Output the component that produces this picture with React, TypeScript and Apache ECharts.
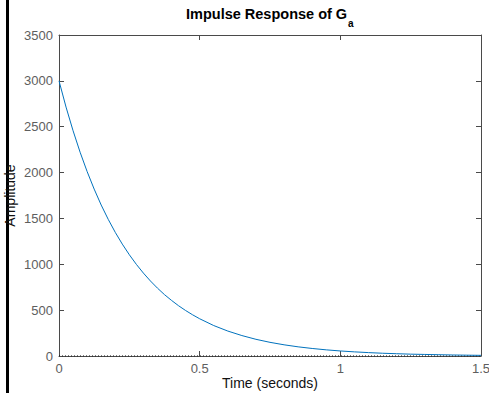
import React, { useEffect, useRef } from "react";
import * as echarts from "echarts";

// Time samples (seconds) and impulse response amplitude
const timeSeconds = [
  0, 0.025, 0.05, 0.075, 0.1, 0.125, 0.15, 0.175, 0.2, 0.225, 0.25,
  0.275, 0.3, 0.325, 0.35, 0.375, 0.4, 0.425, 0.45, 0.475, 0.5,
  0.55, 0.6, 0.65, 0.7, 0.75, 0.8, 0.85, 0.9, 0.95, 1.0,
  1.05, 1.1, 1.15, 1.2, 1.25, 1.3, 1.35, 1.4, 1.45, 1.5,
];
const amplitude = [
  3000, 2714, 2456, 2222, 2011, 1820, 1646, 1490, 1348, 1220, 1104,
  999, 904, 818, 740, 669, 606, 548, 496, 449, 406,
  332, 272, 223, 182, 149, 122, 100, 82, 67, 55,
  45, 37, 30, 25, 20, 17, 14, 11, 9, 7,
];
const xTicks = { min: 0, max: 1.5, interval: 0.5 };
const yTicks = { min: 0, max: 3500, interval: 500 };
const titleMain = "Impulse Response of G";
const titleSub = "a";
const xLabel = "Time (seconds)";
const yLabel = "Amplitude";

export default function App() {
  const ref = useRef<HTMLDivElement>(null);
  useEffect(() => {
    if (!ref.current) return;
    const chart = echarts.init(ref.current, null, { renderer: "svg" });
    const font = "'Liberation Sans', Arial, Helvetica, sans-serif";
    const tickColor = "#5e5e5e";
    const boxColor = "#4a4a4a";
    const lineData = timeSeconds.map((t, i) => [t, amplitude[i]]);
    const axisLine = { show: true, onZero: false, lineStyle: { color: boxColor, width: 1 } };
    const axisTick = { show: true, inside: true, length: 5, lineStyle: { color: boxColor } };
    const fmt = (v: number) => String(v);
    chart.setOption({
      animation: false,
      backgroundColor: "#ffffff",
      textStyle: { fontFamily: font },
      grid: { left: 59, top: 35, right: 8, bottom: 37, containLabel: false, outerBoundsMode: "none" },
      xAxis: [
        {
          type: "value",
          min: xTicks.min,
          max: xTicks.max,
          interval: xTicks.interval,
          position: "bottom",
          axisLine,
          axisTick,
          axisLabel: { color: tickColor, fontSize: 13, fontFamily: font, margin: 6, formatter: fmt },
          splitLine: { show: false },
          name: xLabel,
          nameLocation: "middle",
          nameGap: 20,
          nameMoveOverlap: false,
          nameTextStyle: { color: "#111", fontSize: 14, fontFamily: font },
        },
        {
          type: "value",
          min: xTicks.min,
          max: xTicks.max,
          interval: xTicks.interval,
          position: "top",
          axisLine,
          axisTick,
          axisLabel: { show: false },
          splitLine: { show: false },
        },
      ],
      yAxis: [
        {
          type: "value",
          min: yTicks.min,
          max: yTicks.max,
          interval: yTicks.interval,
          position: "left",
          axisLine,
          axisTick,
          axisLabel: { color: tickColor, fontSize: 13, fontFamily: font, margin: 6, formatter: fmt },
          splitLine: { show: false },
          name: yLabel,
          nameLocation: "middle",
          nameRotate: 90,
          nameGap: 42,
          nameMoveOverlap: false,
          nameTextStyle: { color: "#111", fontSize: 14, fontFamily: font },
        },
        {
          type: "value",
          min: yTicks.min,
          max: yTicks.max,
          interval: yTicks.interval,
          position: "right",
          axisLine,
          axisTick,
          axisLabel: { show: false },
          splitLine: { show: false },
        },
      ],
      series: [
        {
          type: "line",
          data: [[xTicks.min, 0], [xTicks.max, 0]],
          symbol: "none",
          lineStyle: { color: "#000", width: 1, type: [1, 2] },
          z: 1,
        },
        {
          type: "line",
          data: lineData,
          symbol: "none",
          lineStyle: { color: "#0072BD", width: 1 },
          z: 2,
        },
      ],
      graphic: [
        { type: "rect", left: 6, top: 0, shape: { x: 0, y: 0, width: 3, height: 393 }, style: { fill: "#000" } },
        {
          type: "text",
          x: 186,
          y: 6,
          style: { text: titleMain, fontFamily: font, fontSize: 14.5, fontWeight: "bold", fill: "#000" },
        },
        {
          type: "text",
          x: 348,
          y: 18,
          style: { text: titleSub, fontFamily: font, fontSize: 10, fontWeight: "bold", fill: "#000" },
        },
      ],
    });
    return () => chart.dispose();
  }, []);
  return (
    <div
      ref={ref}
      style={{ position: "fixed", left: 0, top: 0, width: 489, height: 393 }}
    />
  );
}
